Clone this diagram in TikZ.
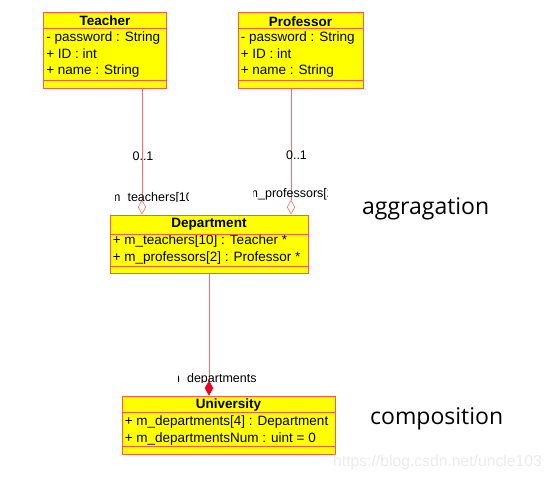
\documentclass[tikz,border=0pt]{standalone}
\usepackage{fontspec}
\setmainfont{Liberation Sans}
\newfontfamily\notefont{Open Sans}
\usetikzlibrary{arrows.meta,positioning,calc}

\definecolor{umlborder}{RGB}{250,90,70}
\definecolor{umlfill}{RGB}{255,255,0}
\definecolor{umlline}{RGB}{255,105,105}
\definecolor{umlred}{RGB}{235,0,35}

\begin{document}
\begin{tikzpicture}[
    x=1pt, y=-1pt,
    classbox/.style={rectangle, draw=umlborder, fill=umlfill, line width=0.8pt, inner sep=0pt},
    classname/.style={font=\fontsize{13.5}{16.5}\selectfont\bfseries, inner sep=0pt, anchor=base},
    attrs/.style={font=\fontsize{13.5}{16.5}\selectfont, align=left, inner sep=0pt, anchor=west},
    divider/.style={draw=umlborder, line width=0.8pt},
    mult/.style={font=\fontsize{12.5}{15}\selectfont, inner sep=0pt},
    rolename/.style={font=\fontsize{12.5}{15}\selectfont, inner sep=0pt, anchor=base west},
    aggregation/.style={draw=umlline, line width=0.6pt, -{Diamond[open, length=15pt, width=8pt, fill=white]}},
    composition/.style={draw=umlline, line width=0.6pt, -{Diamond[length=15pt, width=8.5pt, color=umlred]}},
    note/.style={font=\notefont\fontsize{23}{27}\selectfont, inner sep=0pt, anchor=west}
]
\useasboundingbox (0,0) rectangle (552,480);

% classes
\node[classbox, minimum width=123pt, minimum height=76pt] (teacher) at (105,50) {};
\node[classbox, minimum width=125pt, minimum height=76pt] (professor) at (300.5,50) {};
\node[classbox, minimum width=198pt, minimum height=58pt] (department) at (209,244) {};
\node[classbox, minimum width=213pt, minimum height=58pt] (university) at (228.5,425) {};

\node[classname] (teacher-name) at ($(teacher.north)+(0,14)$) {Teacher};
\node[attrs] (teacher-attrs) at ($(teacher.north west)+(3,43)$) {- password : String\\+ ID : int\\+ name : String};
\draw[divider] ($(teacher.north west)+(0,17)$) -- ($(teacher.north east)+(0,17)$);
\draw[divider] ($(teacher.south west)+(0,-8)$) -- ($(teacher.south east)+(0,-8)$);

\node[classname] (professor-name) at ($(professor.north)+(0,14.5)$) {Professor};
\node[attrs] (professor-attrs) at ($(professor.north west)+(3,43)$) {- password : String\\+ ID : int\\+ name : String};
\draw[divider] ($(professor.north west)+(0,17)$) -- ($(professor.north east)+(0,17)$);
\draw[divider] ($(professor.south west)+(0,-8)$) -- ($(professor.south east)+(0,-8)$);

\node[classname] (department-name) at ($(department.north)+(0,13)$) {Department};
\node[attrs] (department-attrs) at ($(department.north west)+(3,35)$) {+ m\_teachers[10] : Teacher *\\+ m\_professors[2] : Professor *};
\draw[divider] ($(department.north west)+(0,20)$) -- ($(department.north east)+(0,20)$);
\draw[divider] ($(department.south west)+(0,-7)$) -- ($(department.south east)+(0,-7)$);

\node[classname] (university-name) at ($(university.north)+(0,13)$) {University};
\node[attrs] (university-attrs) at ($(university.north west)+(3,35)$) {+ m\_departments[4] : Department\\+ m\_departmentsNum : uint = 0};
\draw[divider] ($(university.north west)+(0,17)$) -- ($(university.north east)+(0,17)$);
\draw[divider] ($(university.south west)+(0,-8)$) -- ($(university.south east)+(0,-8)$);

% associations
\draw[aggregation] ([xshift=37pt]teacher.south) -- node[mult, pos=0.54, xshift=1pt] (teacher-mult) {0..1} ([xshift=37pt]teacher.south |- department.north);
\draw[aggregation] ([xshift=-9.5pt]professor.south) -- node[mult, pos=0.53, xshift=5.5pt] (professor-mult) {0..1} ([xshift=-9.5pt]professor.south |- department.north);
\draw[composition] (department.south) -- (department.south |- university.north);

% role names, cut off as in the tool
\begin{scope}
\clip (115,187) rectangle (188,201.3);
\node[rolename] (teachers-role) at (110,201) {m\_teachers[10]};
\end{scope}
\begin{scope}
\clip (253,183) rectangle (327,201);
\node[rolename] (professors-role) at (247.5,197) {m\_professors[2]};
\end{scope}
\begin{scope}
\clip (178.5,368) rectangle (270,382.3);
\node[rolename] (departments-role) at (169.5,382) {m\_departments};
\end{scope}

% notes
\node[note] (aggr-note) at (362,209) {aggragation};
\node[note] (comp-note) at (370,418.5) {composition};
\node[font=\fontsize{15.7}{18}\selectfont, text=black!8, inner sep=0pt, anchor=west] (watermark) at (333,462) {https://blog.csdn.net/uncle103};

\end{tikzpicture}
\end{document}
